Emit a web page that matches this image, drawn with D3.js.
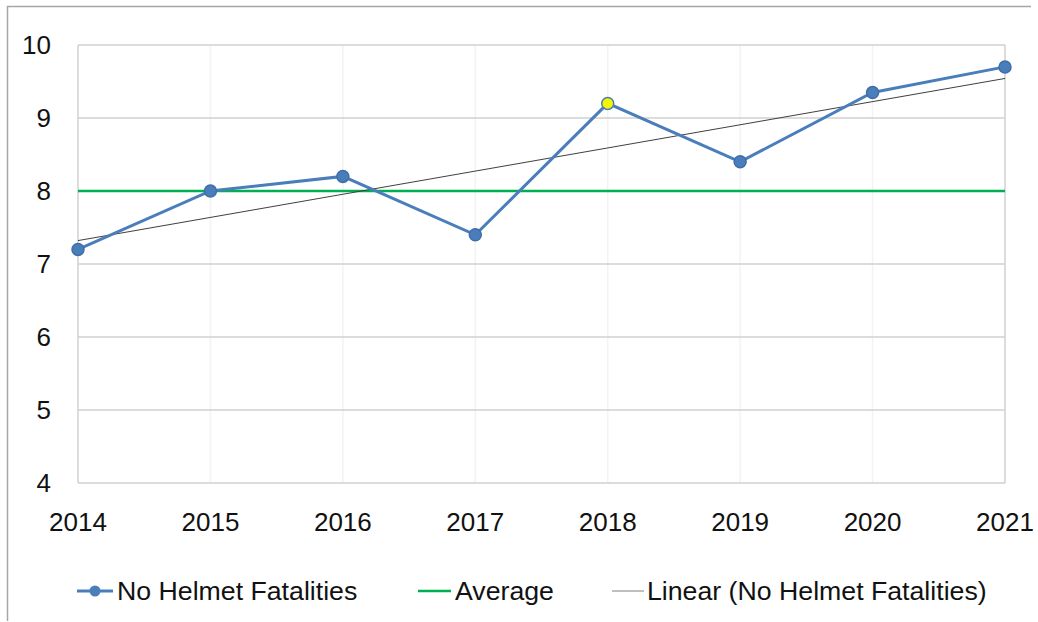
<!DOCTYPE html>
<html lang="en">
<head>
<meta charset="utf-8">
<title>No Helmet Fatalities</title>
<script src="https://d3js.org/d3.v7.min.js"></script>
<style>
  body { margin: 0; background: #fff; }
  svg text { font-family: "Liberation Sans", Arial, sans-serif; fill: #111; }
</style>
</head>
<body>
<div id="chart"></div>
<script>
// data
var years = [2014, 2015, 2016, 2017, 2018, 2019, 2020, 2021];
var fatalities = [7.2, 8.0, 8.2, 7.4, 9.2, 8.4, 9.35, 9.7];
var averageValue = 8.0;
var yTicks = [4, 5, 6, 7, 8, 9, 10];
var highlightYear = 2018;
var legendLabels = ["No Helmet Fatalities", "Average", "Linear (No Helmet Fatalities)"];

var W = 1038, H = 622;
var margin = {top: 45, right: 33, bottom: 139, left: 78},
    width = W - margin.left - margin.right,
    height = H - margin.top - margin.bottom;

var svg = d3.select("#chart").append("svg")
    .attr("width", W).attr("height", H);

// outer frame
svg.append("path")
    .attr("d", "M7.5,621 V6.5 H1031")
    .attr("fill", "none").attr("stroke", "#a6a6a6").attr("stroke-width", 1.5);

var g = svg.append("g")
    .attr("transform", "translate(" + margin.left + "," + margin.top + ")");

var x = d3.scaleLinear().domain([years[0], years[years.length - 1]]).range([0, width]);
var y = d3.scaleLinear().domain([4, 10]).range([height, 0]);

// grid
g.append("g").selectAll("line.v").data(years).enter().append("line")
    .attr("x1", d => x(d)).attr("x2", d => x(d))
    .attr("y1", 0).attr("y2", height)
    .attr("stroke", d => (d === years[0] || d === years[years.length - 1]) ? "#d0d0d0" : "#f3f3f3")
    .attr("stroke-width", 1.5);
g.append("g").selectAll("line.h").data(yTicks).enter().append("line")
    .attr("x1", 0).attr("x2", width)
    .attr("y1", d => y(d)).attr("y2", d => y(d))
    .attr("stroke", "#d0d0d0").attr("stroke-width", 1.5);

// y labels
g.append("g").selectAll("text").data(yTicks).enter().append("text")
    .attr("x", -27).attr("y", d => y(d)).attr("dy", "0.35em")
    .attr("text-anchor", "end").style("font-size", "26px")
    .text(d => d);

// x labels
g.append("g").selectAll("text").data(years).enter().append("text")
    .attr("x", d => x(d)).attr("y", height + 39).attr("dy", "0.35em")
    .attr("text-anchor", "middle").style("font-size", "26px")
    .text(d => d);

// average line
g.append("line")
    .attr("x1", 0).attr("x2", width)
    .attr("y1", y(averageValue)).attr("y2", y(averageValue))
    .attr("stroke", "#00b050").attr("stroke-width", 2.5);

// linear trend (least squares on the series)
var idx = years.map((d, i) => i);
var mx = d3.mean(idx), my = d3.mean(fatalities);
var slope = d3.sum(idx, i => (i - mx) * (fatalities[i] - my)) / d3.sum(idx, i => (i - mx) * (i - mx));
var intercept = my - slope * mx;
g.append("line")
    .attr("x1", x(years[0])).attr("y1", y(intercept))
    .attr("x2", x(years[years.length - 1])).attr("y2", y(intercept + slope * (years.length - 1)))
    .attr("stroke", "#404040").attr("stroke-width", 1);

// series
var line = d3.line().x((d, i) => x(years[i])).y(d => y(d));
g.append("path").datum(fatalities)
    .attr("d", line).attr("fill", "none")
    .attr("stroke", "#4a7ebb").attr("stroke-width", 3);

g.selectAll("circle.pt").data(fatalities).enter().append("circle")
    .attr("cx", (d, i) => x(years[i])).attr("cy", d => y(d))
    .attr("r", 6)
    .attr("fill", (d, i) => years[i] === highlightYear ? "#f5f500" : "#4a7ebb")
    .attr("stroke", (d, i) => years[i] === highlightYear ? "#4a7ebb" : "#3f6ea8")
    .attr("stroke-width", 1.5);

// legend
var legendY = 591;
var legend = svg.append("g");
var items = [
  {x1: 77, x2: 113, tx: 117, color: "#4a7ebb", w: 3, marker: true},
  {x1: 418, x2: 451, tx: 455, color: "#00b050", w: 2.5, marker: false},
  {x1: 612, x2: 644, tx: 647, color: "#808080", w: 1, marker: false}
];
items.forEach(function(it, i) {
  legend.append("line")
      .attr("x1", it.x1).attr("x2", it.x2).attr("y1", legendY).attr("y2", legendY)
      .attr("stroke", it.color).attr("stroke-width", it.w);
  if (it.marker) {
    legend.append("circle")
        .attr("cx", (it.x1 + it.x2) / 2).attr("cy", legendY).attr("r", 5.5)
        .attr("fill", it.color);
  }
  legend.append("text")
      .attr("x", it.tx).attr("y", legendY).attr("dy", "0.35em")
      .style("font-size", "26.7px")
      .text(legendLabels[i]);
});
</script>
</body>
</html>
